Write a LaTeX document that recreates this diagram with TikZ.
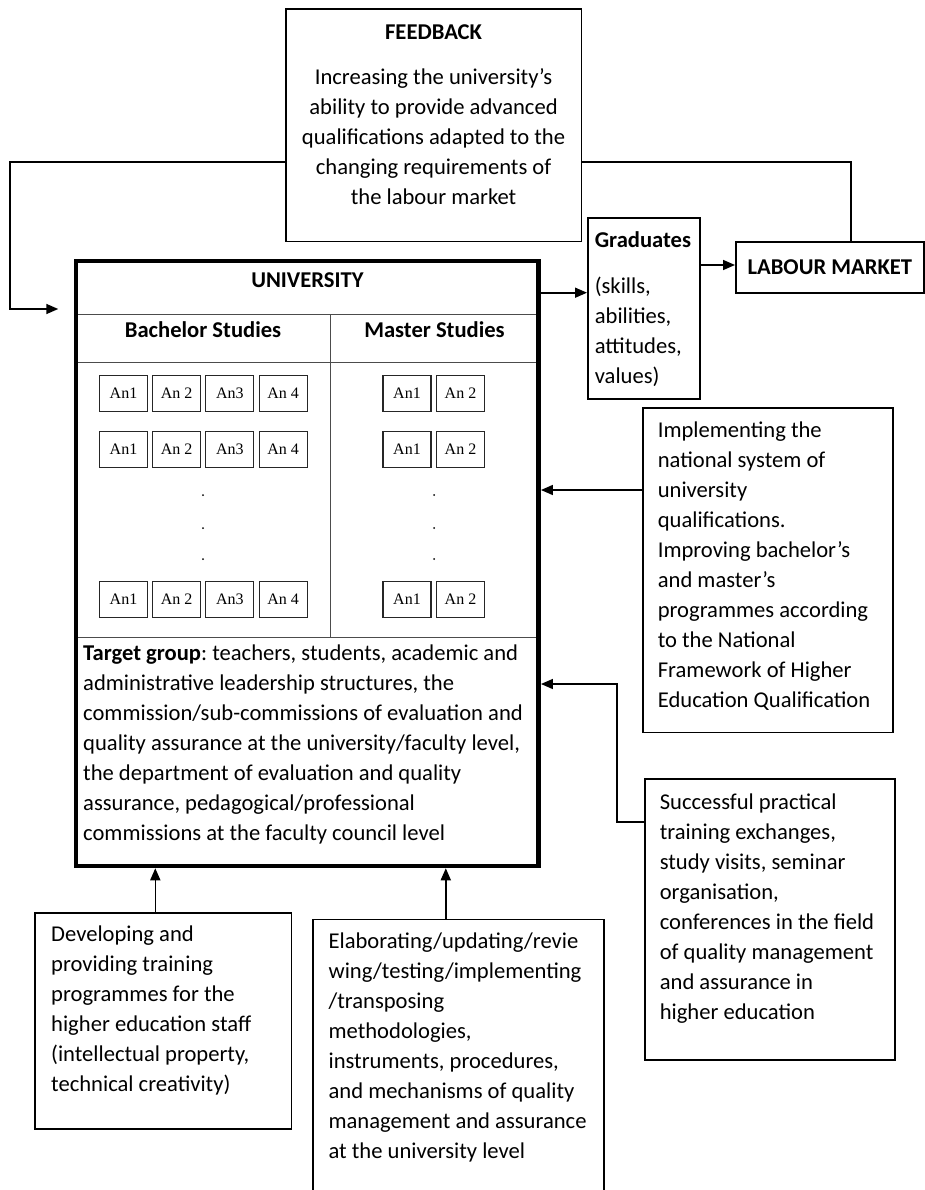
\documentclass[tikz,border=0pt]{standalone}
\usepackage{fontspec}
\setmainfont{Carlito}
\newfontfamily\anfont{Liberation Serif}
\usetikzlibrary{
	arrows.meta,    % punte di freccia (Triangle)
	positioning
}
\frenchspacing

% testo in un riquadro: larghezza, altezza, rientro, contenuto
\newcommand{\testo}[4]{%
	\begin{minipage}[t][#2][t]{#1}\raggedright\leftskip=#3\strut#4\end{minipage}}

\begin{document}
\begin{tikzpicture}[x=1pt, y=-1pt,
		>={Triangle[length=12pt, width=10pt]},
		every node/.append style={font=\fontsize{22.6}{30}\selectfont},
		box/.style={draw, line width=1.6pt, inner xsep=0pt, inner ysep=8pt, anchor=north west},
		titolo/.style={font=\fontsize{22.6}{30}\selectfont\bfseries, inner sep=0pt},
		anbox/.style={draw=black!85, line width=1.1pt, minimum width=48pt, minimum height=36pt,
			inner sep=0pt, text height=10.5pt, text depth=0pt, font=\anfont\fontsize{16}{16}\selectfont},
		freccia/.style={->, line width=1.6pt},
		linea/.style={line width=1.6pt},
		divisore/.style={draw=black!70, line width=1pt}]
	
	% --- Area del disegno ---
	\useasboundingbox (0,0) rectangle (925,1190);
	\fill[white] (0,0) rectangle (925,1190);
	\clip (0,0) rectangle (925,1190);
	
	% --- Feedback ---
	\node[box, inner ysep=9.7pt] (fb) at (285,8.3) {\begin{minipage}[t][213.1pt][t]{295.5pt}\centering
			\strut\textbf{FEEDBACK}\\[15pt]
			Increasing the university’s\\ability to provide advanced\\qualifications adapted to the\\
			changing requirements of\\the labour market\end{minipage}};
	
	% --- Mercato del lavoro e laureati ---
	\node[box, inner sep=0pt, minimum width=188pt, minimum height=51.3pt,
		font=\fontsize{22.6}{30}\selectfont\bfseries] (lab) at (735,241) {LABOUR MARKET};
	\node[box] (grad) at (587,217.3) {\testo{112pt}{165pt}{7pt}{%
			\textbf{Graduates}\\[16pt](skills,\\abilities,\\attitudes,\\values)}};
	
	% --- Universita' ---
	\node[draw, line width=4.5pt, minimum width=462.7pt, minimum height=605.2pt,
		inner sep=0pt, anchor=north west] (univ) at (73.75,258.55) {};
	% linee interne
	\foreach \y in {314,362,637}
		\draw[divisore, shorten <=4.5pt, shorten >=4.5pt] (univ.west |- 0,\y) -- (univ.east |- 0,\y);
	\draw[divisore] (330,314) -- (330,637);
	
	\node[titolo] (univtit) at (307.4,280) {UNIVERSITY};
	\node[titolo] (bach) at (203,330) {Bachelor Studies};
	\node[titolo] (mast) at (434.5,330) {Master Studies};
	
	% anni di studio
	\foreach \r/\y in {1/393.7, 2/449.7, 3/599.7} {
		\foreach \i/\t in {1/An1, 2/An 2, 3/An3, 4/An 4}
			\node[anbox] (b\r\i) at ({123.5+53.2*(\i-1)},\y) {\t};
		\node[anbox] (m\r1) at (407,\y) {An1};
		\node[anbox] (m\r2) at (460.5,\y) {An 2};
	}
	% puntini
	\foreach \y in {495,528,559} {
		\fill (203,\y) circle (1pt);
		\fill (434,\y) circle (1pt);
	}
	
	% gruppo target
	\node[anchor=base west, inner sep=0pt] (target) at (83,660) {\begin{minipage}[t]{455pt}\raggedright
			\textbf{Target group}: teachers, students, academic and\\
			administrative leadership structures, the\\
			commission/sub-commissions of evaluation and\\
			quality assurance at the university/faculty level,\\
			the department of evaluation and quality\\
			assurance, pedagogical/professional\\
			commissions at the faculty council level\end{minipage}};
	
	% --- Riquadri a destra ---
	\node[box] (impl) at (642,407.3) {\testo{250pt}{308.4pt}{15pt}{%
			Implementing the\\national system of\\university\\qualifications.\\
			Improving bachelor’s\\and master’s\\programmes according\\to the National\\
			Framework of Higher\\Education Qualification}};
	\node[box, inner ysep=9pt] (succ) at (644,778.3) {\testo{250pt}{262.7pt}{15pt}{%
			Successful practical\\training exchanges,\\study visits, seminar\\organisation,\\
			conferences in the field\\of quality management\\and assurance in\\higher education}};
	
	% --- Riquadri in basso ---
	\node[box] (dev) at (34.4,912) {\testo{256.1pt}{200.3pt}{16pt}{%
			Developing and\\providing training\\programmes for the\\higher education staff\\
			(intellectual property,\\technical creativity)}};
	\node[box] (elab) at (312.4,918.7) {\testo{291pt}{265.3pt}{15.4pt}{%
			Elaborating/updating/revie\\wing/testing/implementing\\/transposing\\methodologies,\\
			instruments, procedures,\\and mechanisms of quality\\management and assurance\\
			at the university level}};
	
	% --- Collegamenti ---
	% ritorno del feedback verso l'universita'
	\coordinate (fbcorner) at (10,309);
	\draw[freccia, shorten >=15.5pt] (fb.west |- 0,162) -| (fbcorner) -- (univ.west |- fbcorner);
	\draw[linea] (fb.east |- 0,162) -| (lab.north -| 851,0);
	% uscite
	\draw[freccia] (univ.east |- 0,292.7) -- (grad.west |- 0,292.7);
	\draw[freccia] (grad.east |- 0,265) -- (lab.west |- 0,265);
	% ingressi
	\draw[freccia] (impl.west |- 0,490) -- (univ.east |- 0,490);
	\draw[freccia] (succ.west |- 0,822) -| (617,684) -- (univ.east |- 0,684);
	\draw[freccia] (dev.north -| 155.3,0) -- (univ.south -| 155.3,0);
	\draw[freccia] (elab.north -| 445.8,0) -- (univ.south -| 445.8,0);
\end{tikzpicture}
\end{document}
